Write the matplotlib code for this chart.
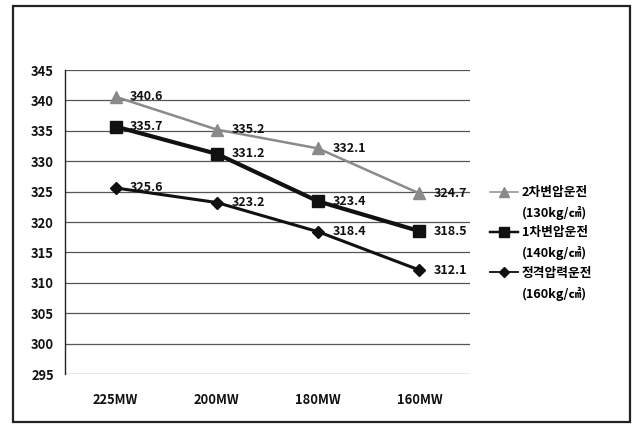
import matplotlib
matplotlib.use('Agg')
import matplotlib.pyplot as plt
from matplotlib.lines import Line2D
from matplotlib.patches import Rectangle

plt.rcParams['font.family'] = ['Noto Sans CJK KR', 'DejaVu Sans']
plt.rcParams['font.weight'] = 'bold'

categories = ['225MW', '200MW', '180MW', '160MW']
series_names = ['2차변압운전', '1차변압운전', '정격압력운전']
series_units = ['(130kg/㎠)', '(140kg/㎠)', '(160kg/㎠)']
second_var = [340.6, 335.2, 332.1, 324.7]
first_var = [335.7, 331.2, 323.4, 318.5]
rated = [325.6, 323.2, 318.4, 312.1]
y_ticks = [295, 300, 305, 310, 315, 320, 325, 330, 335, 340, 345]

styles = [
    dict(color='#8a8a8a', lw=1.8, marker='^', ms=8.5),
    dict(color='#111111', lw=3.0, marker='s', ms=8),
    dict(color='#111111', lw=2.2, marker='D', ms=6),
]

W, H = 638, 425
fig = plt.figure(figsize=(W / 100, H / 100), dpi=100)
ax = fig.add_axes([65 / W, 1 - 374 / H, (470 - 65) / W, (374 - 70) / H])

x = list(range(len(categories)))
handles = []
for vals, st in zip([second_var, first_var, rated], styles):
    ln, = ax.plot(x, vals, color=st['color'], lw=st['lw'], marker=st['marker'],
                  ms=st['ms'], mfc=st['color'], mec=st['color'], zorder=3)
    handles.append(ln)
    for xi, v in zip(x, vals):
        ax.annotate(f'{v:.1f}', (xi, v), xytext=(10.5, 0), textcoords='offset points',
                    ha='left', va='center', fontsize=9, fontweight='bold', color='#111111')

ax.set_xlim(-0.5, len(categories) - 0.5)
ax.set_ylim(295, 345)
ax.set_yticks(y_ticks)
ax.set_xticks(x)
ax.set_xticklabels(categories)
ax.tick_params(axis='both', length=0, labelsize=9.3, colors='#111111')
ax.tick_params(axis='y', pad=8)
ax.tick_params(axis='x', pad=14)
ax.yaxis.grid(True, color='#555555', lw=0.9)
ax.set_axisbelow(True)
for side in ['right', 'top', 'bottom']:
    ax.spines[side].set_visible(False)
ax.spines['left'].set_color('#222222')
ax.spines['left'].set_linewidth(1.0)

# legend: name row carries the marker, unit row is a blank entry
leg_handles, leg_labels = [], []
for h, name, unit in zip(handles, series_names, series_units):
    leg_handles.append(Line2D([], [], color=h.get_color(), lw=h.get_linewidth() * 0.6,
                              marker=h.get_marker(), ms=h.get_markersize() * 0.9,
                              mfc=h.get_color(), mec=h.get_color()))
    leg_labels.append(name)
    leg_handles.append(Line2D([], [], linestyle='none'))
    leg_labels.append(unit)
fig.legend(leg_handles, leg_labels, loc='upper left',
           bbox_to_anchor=(490 / W, 1 - 186 / H), frameon=False,
           prop=dict(size=9.2, weight='bold'), handlelength=2.2, handletextpad=0.3,
           labelspacing=0.52, borderpad=0, borderaxespad=0)

fig.patches.append(Rectangle((13 / W, 1 - 422 / H), (630 - 13) / W, (422 - 6) / H,
                             transform=fig.transFigure, fill=False,
                             edgecolor='#222222', lw=1.6))

fig.savefig('out.png', dpi=100)
